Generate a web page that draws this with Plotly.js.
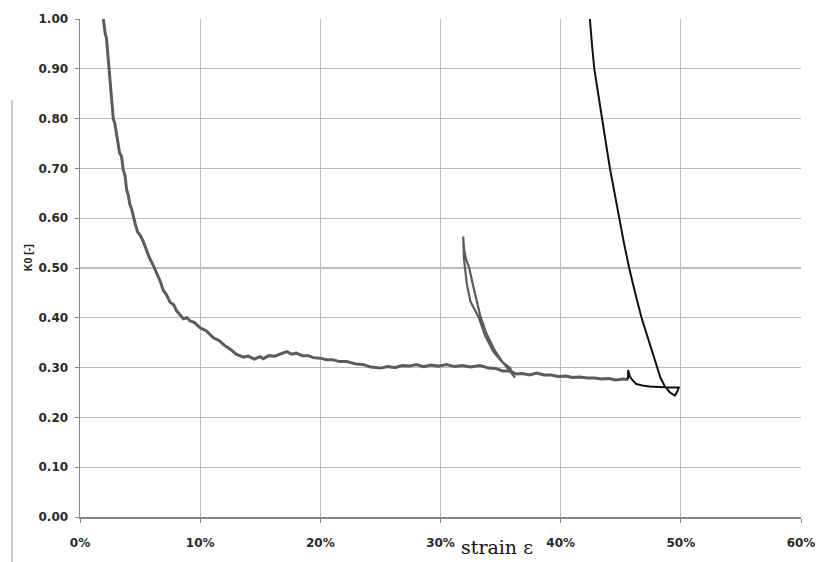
<!DOCTYPE html>
<html>
<head>
<meta charset="utf-8">
<script src="https://cdn.plot.ly/plotly-3.0.1.min.js"></script>
<style>html,body{margin:0;padding:0;background:#fff;}#chart{width:817px;height:562px;}</style>
</head>
<body>
<div id="chart"></div>
<script>
// strain in %, K0 in [-]
const mainStrain = [1.94,2.0,2.1,2.2,2.3,2.44,2.55,2.65,2.77,2.9,3.0,3.19,3.3,3.45,3.6,3.75,3.88,4.0,4.15,4.3,4.43,4.6,4.8,5.0,5.27,5.5,5.75,6.1,6.4,6.7,6.93,7.2,7.5,7.8,8.04,8.3,8.6,8.9,9.15,9.5,10.0,10.5,11.1,11.6,12.0,12.5,13.0,13.6,14.0,14.5,15.0,15.25,15.7,16.2,16.7,17.2,17.6,18.0,18.5,19.0,19.4,20.0,20.5,21.0,21.6,22.2,23.0,23.6,24.2,25.0,25.6,26.2,26.8,27.4,28.0,28.6,29.2,29.8,30.5,31.2,31.8,32.5,33.3,34.0,34.6,35.2,35.8,36.3,36.8,37.4,38.0,38.6,39.2,39.8,40.4,41.0,41.6,42.2,42.8,43.4,44.0,44.6,45.2,45.6];
const mainK0 = [1.00,0.985,0.97,0.962,0.935,0.90,0.875,0.845,0.80,0.79,0.775,0.75,0.73,0.725,0.697,0.685,0.657,0.648,0.628,0.618,0.603,0.588,0.572,0.566,0.553,0.537,0.522,0.505,0.488,0.472,0.455,0.446,0.431,0.426,0.414,0.407,0.398,0.400,0.394,0.391,0.380,0.374,0.360,0.354,0.345,0.337,0.327,0.321,0.323,0.317,0.322,0.318,0.324,0.323,0.328,0.332,0.327,0.329,0.324,0.324,0.320,0.319,0.316,0.316,0.312,0.312,0.307,0.306,0.301,0.299,0.302,0.300,0.304,0.303,0.306,0.302,0.305,0.303,0.306,0.302,0.304,0.301,0.304,0.299,0.298,0.293,0.293,0.287,0.288,0.285,0.289,0.285,0.285,0.282,0.283,0.280,0.281,0.279,0.279,0.277,0.278,0.275,0.277,0.276];

const loopStrain = [36.05,35.8,35.1,34.4,33.7,33.2,32.85,32.5,32.2,32.03,31.95,31.89,31.95,32.1,32.39,32.7,33.0,33.3,33.8,34.5,35.2,35.9,36.2];
const loopK0 = [0.285,0.299,0.312,0.332,0.365,0.40,0.416,0.432,0.466,0.50,0.519,0.563,0.54,0.52,0.50,0.466,0.432,0.405,0.37,0.335,0.31,0.29,0.28];

const blackStrain = [45.6,45.62,45.76,46.0,46.3,46.8,47.4,48.0,48.5,49.0,49.5,49.83,49.7,49.5,49.1,48.67,48.3,48.03,47.35,46.73,46.2,45.7,45.27,44.87,44.48,44.1,43.77,43.45,43.1,42.8,42.6,42.43];
const blackK0 = [0.276,0.295,0.282,0.274,0.267,0.264,0.262,0.261,0.260,0.260,0.260,0.260,0.252,0.244,0.25,0.262,0.28,0.30,0.35,0.40,0.45,0.50,0.55,0.60,0.65,0.70,0.75,0.80,0.85,0.90,0.95,1.00];

const xTicks = [0,10,20,30,40,50,60];
const yTicks = [0,0.1,0.2,0.3,0.4,0.5,0.6,0.7,0.8,0.9,1.0];

const traces = [
  {x: mainStrain, y: mainK0, mode:'lines', line:{color:'#5c5c5c', width:3}, hoverinfo:'skip'},
  {x: loopStrain, y: loopK0, mode:'lines', line:{color:'#5c5c5c', width:2.2}, hoverinfo:'skip'},
  {x: blackStrain, y: blackK0, mode:'lines', line:{color:'#111', width:2}, hoverinfo:'skip'}
];

const tickFont = {family:'DejaVu Sans, sans-serif', size:12, weight:'bold', color:'#2a2a2a'};

const layout = {
  width:817, height:562,
  margin:{l:80, r:16, t:19, b:45, pad:0},
  paper_bgcolor:'#fff', plot_bgcolor:'#fff',
  showlegend:false,
  xaxis:{
    range:[0,60], tickvals:xTicks, ticktext:xTicks.map(v=>v+'%'),
    showgrid:true, gridcolor:'#bcbcbc', gridwidth:1.3,
    showline:true, linecolor:'#888', linewidth:1.5,
    zeroline:false, ticks:'outside', ticklen:4, tickcolor:'#888',
    ticklabelstandoff:10, tickfont:tickFont, fixedrange:true
  },
  yaxis:{
    range:[0,1], tickvals:yTicks, ticktext:yTicks.map(v=>v.toFixed(2)),
    showgrid:true, gridcolor:'#bcbcbc', gridwidth:1.3,
    showline:true, linecolor:'#888', linewidth:1.5,
    zeroline:false, ticks:'outside', ticklen:4, tickcolor:'#888',
    ticklabelstandoff:4, tickfont:tickFont, fixedrange:true
  },
  shapes:[
    {type:'line', xref:'paper', yref:'paper', x0:-0.0943, x1:-0.0943, y0:0.837, y1:-0.1, line:{color:'#999', width:1}}
  ],
  annotations:[
    {text:'K0 [-]', xref:'paper', yref:'paper', x:-0.072, y:0.52, xanchor:'center', yanchor:'middle', textangle:-90, showarrow:false,
     font:{family:'Liberation Sans, Arial, sans-serif', size:10.5, weight:'bold', color:'#222'}},
    {text:'strain ε', xref:'paper', yref:'paper', x:0.579, y:-0.061, xanchor:'center', yanchor:'middle', showarrow:false,
     font:{family:'DejaVu Serif, serif', size:19, color:'#111'}}
  ]
};

Plotly.newPlot('chart', traces, layout, {displayModeBar:false, staticPlot:true});
</script>
</body>
</html>
